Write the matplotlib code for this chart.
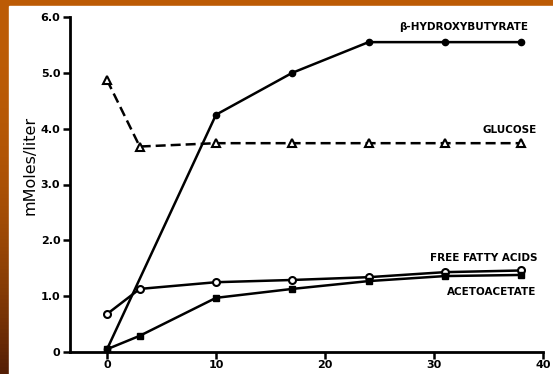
import numpy as np
import matplotlib
matplotlib.use("Agg")
import matplotlib.pyplot as plt

# Data
bhb_x = [0, 10, 17, 24, 31, 38]
bhb_y = [0.05, 4.25, 5.0, 5.55, 5.55, 5.55]
glu_x = [0, 3, 10, 17, 24, 31, 38]
glu_y = [4.87, 3.68, 3.74, 3.74, 3.74, 3.74, 3.74]
ffa_x = [0, 3, 10, 17, 24, 31, 38]
ffa_y = [0.68, 1.13, 1.25, 1.29, 1.34, 1.43, 1.46]
aca_x = [0, 3, 10, 17, 24, 31, 38]
aca_y = [0.05, 0.29, 0.97, 1.13, 1.27, 1.36, 1.38]
xticks = [0, 10, 20, 30, 40]
yticks = [0, 1, 2, 3, 4, 5, 6]
yticklabels = ["0", "1.0", "2.0", "3.0", "4.0", "5.0", "6.0"]

W, H = 553, 374
fig = plt.figure(figsize=(W/100, H/100), dpi=100)

# background gradient (slide border)
bg = fig.add_axes([0, 0, 1, 1])
bg.set_axis_off()
grad = np.zeros((100, 2, 3))
top = np.array([0.74, 0.36, 0.02])
bot = np.array([0.33, 0.12, 0.02])
for i in range(100):
    t = (i / 99) ** 2.5
    grad[i, :, :] = top * (1 - t) + bot * t
bg.imshow(grad, aspect='auto', extent=[0, 1, 0, 1], origin='upper')
bg.add_patch(plt.Rectangle((9/W, 0), 1 - 9/W, (H - 6)/H, color='white', zorder=2))
bg.set_xlim(0, 1); bg.set_ylim(0, 1)

ax = fig.add_axes([70/W, (H - 352)/H, (544 - 70)/W, (352 - 17)/H])
ax.patch.set_alpha(0)
ax.set_xlim(-3.4, 40.1)
ax.set_ylim(0, 6.0)
for s in ['top', 'right']:
    ax.spines[s].set_visible(False)
for s in ['left', 'bottom']:
    ax.spines[s].set_linewidth(2)
    ax.spines[s].set_color('black')
ax.spines['bottom'].set_bounds(-3.4, 40)

lw = 1.8
ax.plot(bhb_x, bhb_y, '-', color='black', lw=lw, marker='o', ms=4.5, mfc='black', clip_on=False, zorder=3)
ax.plot(glu_x, glu_y, '--', color='black', lw=lw, dashes=(4, 2), marker='^', ms=6, mfc='white', mew=1.5, clip_on=False, zorder=3)
ax.plot(ffa_x, ffa_y, '-', color='black', lw=lw, marker='o', ms=5, mfc='white', mew=1.5, clip_on=False, zorder=3)
ax.plot(aca_x, aca_y, '-', color='black', lw=lw, marker='s', ms=5, mfc='black', clip_on=False, zorder=3)

ax.set_xticks(xticks)
ax.set_xticklabels([str(v) for v in xticks])
ax.set_yticks(yticks)
ax.set_yticklabels(yticklabels)
ax.tick_params(axis='both', direction='out', length=5, width=1.8, labelsize=8, colors='black')
ax.tick_params(axis='x', pad=1)
ax.tick_params(axis='y', pad=2)
for lab in ax.get_xticklabels() + ax.get_yticklabels():
    lab.set_fontweight('bold')

fig.text(30/W, (H - 165)/H, 'mMoles/liter', fontsize=11.5, rotation=90,
         ha='center', va='center', color='black')

tk = dict(fontsize=7.5, fontweight='bold', ha='right', va='center', color='black')
ax.text(38.6, 5.82, 'β-HYDROXYBUTYRATE', **tk)
ax.text(39.4, 3.98, 'GLUCOSE', **tk)
ax.text(39.5, 1.68, 'FREE FATTY ACIDS', **tk)
ax.text(39.4, 1.07, 'ACETOACETATE', **tk)

fig.savefig('out.png', dpi=100)
